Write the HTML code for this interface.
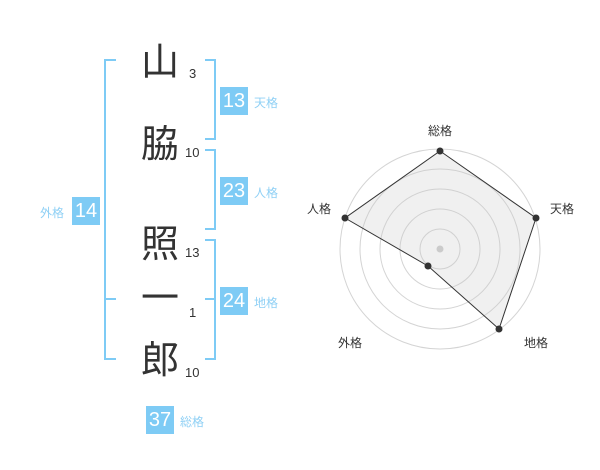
<!DOCTYPE html>
<html><head><meta charset="utf-8"><style>
body{margin:0;width:600px;height:470px;background:#fff;overflow:hidden;position:relative;font-family:"Liberation Sans","Noto Sans CJK JP",sans-serif}
.k{position:absolute;font-size:38px;color:#333;line-height:1;width:44px;text-align:center}
.n{position:absolute;font-size:13px;color:#333;line-height:1}
.b{position:absolute;width:28px;height:28px;background:#7ecbf5;color:#fff;font-size:20px;line-height:28px;text-align:center}
.l{position:absolute;font-size:12px;color:#8fd0f5;line-height:1}
</style></head><body>
<svg width="600" height="470" style="position:absolute;left:0;top:0">
<g fill="none" stroke="#7ecbf5" stroke-width="2">
<path d="M116 60H105V359H116M105 299H116"/>
<path d="M205 60H215V139H205"/>
<path d="M205 150H215V229H205"/>
<path d="M205 240H215V359H205M215 299H205"/>
</g>
<g fill="none" stroke="#d4d4d4" stroke-width="1">
<circle cx="440" cy="249" r="100"/><circle cx="440" cy="249" r="80"/><circle cx="440" cy="249" r="60"/><circle cx="440" cy="249" r="40"/><circle cx="440" cy="249" r="20"/>
</g>
<circle cx="440" cy="249" r="3.5" fill="#ccc"/>
<polygon points="440,151 536,218 499,329 428,266 345,218" fill="rgba(200,200,200,0.28)" stroke="#333" stroke-width="1"/>
<g fill="#333"><circle cx="440" cy="151" r="3.5"/><circle cx="536" cy="218" r="3.5"/><circle cx="499" cy="329" r="3.5"/><circle cx="428" cy="266" r="3.5"/><circle cx="345" cy="218" r="3.5"/></g>
<g font-family="Liberation Sans,Noto Sans CJK JP,sans-serif" font-size="12" fill="#333" text-anchor="middle">
<text x="440" y="135">総格</text><text x="562" y="213">天格</text><text x="536" y="347">地格</text><text x="350" y="347">外格</text><text x="319" y="213">人格</text>
</g>
</svg>
<div class="k" style="left:138px;top:44px">山</div>
<div class="k" style="left:138px;top:126px">脇</div>
<div class="k" style="left:138px;top:226px">照</div>
<div class="k" style="left:138px;top:280px">一</div>
<div class="k" style="left:138px;top:342px">郎</div>
<div class="n" style="left:189px;top:67px">3</div>
<div class="n" style="left:185px;top:146px">10</div>
<div class="n" style="left:185px;top:246px">13</div>
<div class="n" style="left:189px;top:306px">1</div>
<div class="n" style="left:185px;top:366px">10</div>
<div class="b" style="left:220px;top:87px">13</div><div class="l" style="left:254px;top:97px">天格</div>
<div class="b" style="left:220px;top:177px">23</div><div class="l" style="left:254px;top:187px">人格</div>
<div class="b" style="left:220px;top:287px">24</div><div class="l" style="left:254px;top:297px">地格</div>
<div class="b" style="left:72px;top:197px">14</div><div class="l" style="left:40px;top:207px">外格</div>
<div class="b" style="left:146px;top:406px">37</div><div class="l" style="left:180px;top:416px">総格</div>
</body></html>
